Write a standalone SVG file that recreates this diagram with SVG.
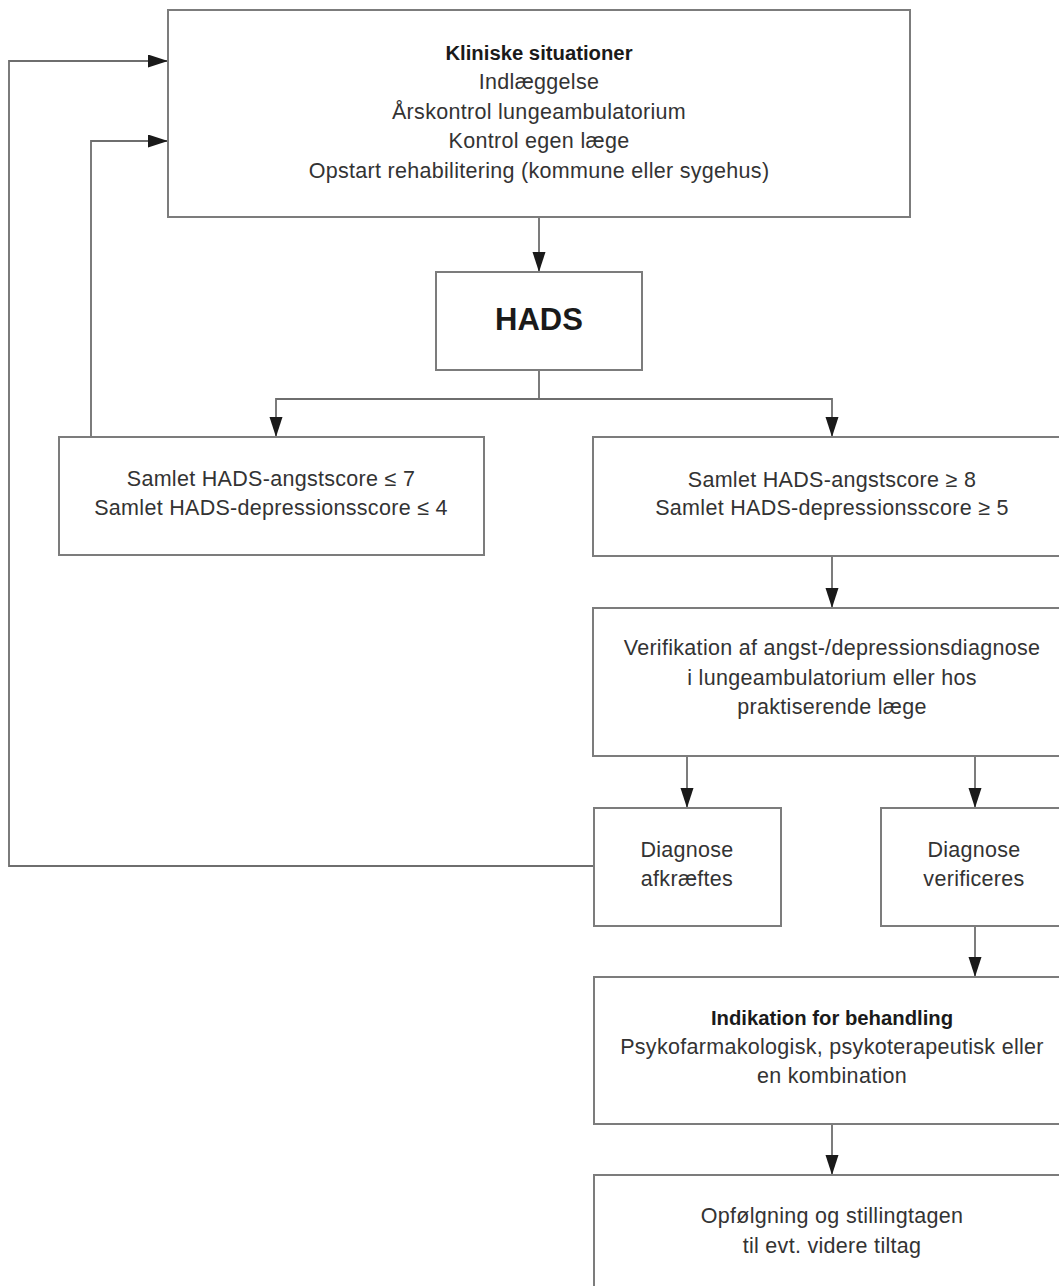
<svg xmlns="http://www.w3.org/2000/svg" width="1059" height="1286" viewBox="0 0 1059 1286">
<style>
.box{fill:#fff;stroke:#7c7c7c;stroke-width:2}
.con{fill:none;stroke:#6e6e6e;stroke-width:1.8}
text{font-family:"Liberation Sans",Arial,Helvetica,sans-serif;font-size:21.5px;letter-spacing:0.3px;fill:#333;text-anchor:middle}
.b{font-weight:bold;fill:#1a1a1a;font-size:20.3px;letter-spacing:0}
.big{font-size:31px;font-weight:bold;fill:#1a1a1a;letter-spacing:0}
</style>
<defs>
<marker id="ah" markerUnits="userSpaceOnUse" markerWidth="21" markerHeight="14" refX="20" refY="6.5" orient="auto">
<path d="M0,0 L20,6.5 L0,13 z" fill="#1a1a1a"/>
</marker>
</defs>
<rect width="1059" height="1286" fill="#fff"/>
<g id="connectors">
<path class="con" d="M539,217 V272" marker-end="url(#ah)"/>
<path class="con" d="M539,370 V399 H276 V437" marker-end="url(#ah)"/>
<path class="con" d="M539,399 H832 V437" marker-end="url(#ah)"/>
<path class="con" d="M832,556 V608" marker-end="url(#ah)"/>
<path class="con" d="M687,756 V808" marker-end="url(#ah)"/>
<path class="con" d="M975,756 V808" marker-end="url(#ah)"/>
<path class="con" d="M975,926 V977" marker-end="url(#ah)"/>
<path class="con" d="M832,1124 V1175" marker-end="url(#ah)"/>
<path class="con" d="M594,866 H9 V61 H168" marker-end="url(#ah)"/>
<path class="con" d="M91,437 V141 H168" marker-end="url(#ah)"/>
</g>
<g id="kliniske">
<rect class="box" x="168" y="10" width="742" height="207"/>
<text class="b" x="539" y="60">Kliniske situationer</text>
<text x="539" y="89">Indlæggelse</text>
<text x="539" y="119">Årskontrol lungeambulatorium</text>
<text x="539" y="148">Kontrol egen læge</text>
<text x="539" y="178">Opstart rehabilitering (kommune eller sygehus)</text>
</g>
<g id="hads">
<rect class="box" x="436" y="272" width="206" height="98"/>
<text class="big" x="539" y="330">HADS</text>
</g>
<g id="lav">
<rect class="box" x="59" y="437" width="425" height="118"/>
<text x="271" y="486">Samlet HADS-angstscore ≤ 7</text>
<text x="271" y="515">Samlet HADS-depressionsscore ≤ 4</text>
</g>
<g id="hoej">
<rect class="box" x="593" y="437" width="480" height="119"/>
<text x="832" y="487">Samlet HADS-angstscore ≥ 8</text>
<text x="832" y="515">Samlet HADS-depressionsscore ≥ 5</text>
</g>
<g id="verifikation">
<rect class="box" x="593" y="608" width="480" height="148"/>
<text x="832" y="655">Verifikation af angst-/depressionsdiagnose</text>
<text x="832" y="685">i lungeambulatorium eller hos</text>
<text x="832" y="714">praktiserende læge</text>
</g>
<g id="afkraeftes">
<rect class="box" x="594" y="808" width="187" height="118"/>
<text x="687" y="857">Diagnose</text>
<text x="687" y="886">afkræftes</text>
</g>
<g id="verificeres">
<rect class="box" x="881" y="808" width="192" height="118"/>
<text x="974" y="857">Diagnose</text>
<text x="974" y="886">verificeres</text>
</g>
<g id="indikation">
<rect class="box" x="594" y="977" width="479" height="147"/>
<text class="b" x="832" y="1025">Indikation for behandling</text>
<text x="832" y="1054">Psykofarmakologisk, psykoterapeutisk eller</text>
<text x="832" y="1083">en kombination</text>
</g>
<g id="opfoelgning">
<rect class="box" x="594" y="1175" width="479" height="130"/>
<text x="832" y="1223">Opfølgning og stillingtagen</text>
<text x="832" y="1253">til evt. videre tiltag</text>
</g>
</svg>
